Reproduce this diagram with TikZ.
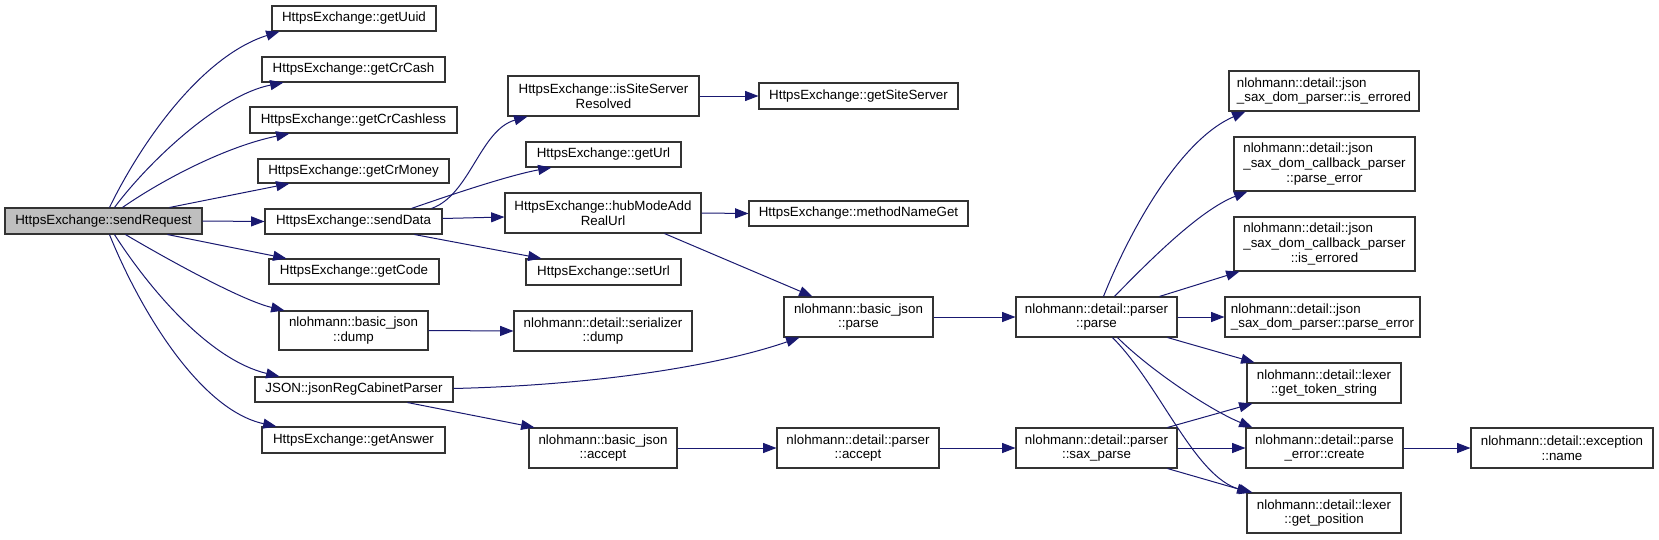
\documentclass[tikz,border=0pt]{standalone}
\usepackage{fontspec}
\setmainfont{Liberation Sans}
\usetikzlibrary{arrows.meta,calc}
\definecolor{edgeblue}{HTML}{191970}
\definecolor{rootfill}{HTML}{BFBFBF}
\definecolor{boxline}{HTML}{333333}
\newlength\lwtmp
\newcommand\lline[2]{\settowidth\lwtmp{#2}\makebox[\lwtmp][l]{#1}}
\newcommand\gnode[7][box]{\node[#1,minimum width={(#5-#3)*0.75pt},minimum height={(#6-#4)*0.75pt}] (#2) at ({(#3+#5)/2},{(#4+#6)/2}) {#7};}
\begin{document}
\begin{tikzpicture}[x=0.75pt,y=-0.75pt,
  box/.style={draw=boxline,line width=0.8pt,fill=white,inner sep=0pt,align=center,font=\fontsize{10}{11}\selectfont},
  rootbox/.style={box,fill=rootfill},
  edge/.style={draw=edgeblue,line width=0.75pt,-{Triangle[length=10pt,width=7.5pt]}}]
\useasboundingbox (0,0) rectangle (1659,539);
% column 1
\gnode[rootbox]{root}{5}{208}{202}{234}{HttpsExchange::sendRequest}
% column 2
\gnode{getUuid}{272}{6}{436}{31}{HttpsExchange::getUuid}
\gnode{getCrCash}{262}{57}{445}{82}{HttpsExchange::getCrCash}
\gnode{getCrCashless}{250}{107}{457}{133}{HttpsExchange::getCrCashless}
\gnode{getCrMoney}{258}{159}{449}{183}{HttpsExchange::getCrMoney}
\gnode{sendData}{265}{209}{442}{234}{HttpsExchange::sendData}
\gnode{getCode}{269}{259}{439}{284}{HttpsExchange::getCode}
\gnode{bjdump}{279}{311}{428}{350}{nlohmann::basic\_json\\::dump}
\gnode{jsonReg}{255}{377}{453}{402}{JSON::jsonRegCabinetParser}
\gnode{getAnswer}{262}{427}{445}{453}{HttpsExchange::getAnswer}
% column 3
\gnode{isSite}{508}{76}{699}{116}{HttpsExchange::isSiteServer\\Resolved}
\gnode{getUrl}{526}{142}{681}{167}{HttpsExchange::getUrl}
\gnode{hubMode}{505}{193}{701}{233}{HttpsExchange::hubModeAdd\\RealUrl}
\gnode{setUrl}{526}{259}{681}{285}{HttpsExchange::setUrl}
\gnode{serdump}{514}{311}{692}{351}{nlohmann::detail::serializer\\::dump}
\gnode{bjaccept}{529}{428}{677}{468}{nlohmann::basic\_json\\::accept}
% column 4
\gnode{getSiteServer}{759}{83}{958}{109}{HttpsExchange::getSiteServer}
\gnode{methodNameGet}{749}{201}{968}{226}{HttpsExchange::methodNameGet}
\gnode{bjparse}{784}{297}{933}{337}{nlohmann::basic\_json\\::parse}
\gnode{paccept}{777}{428}{939}{468}{nlohmann::detail::parser\\::accept}
% column 5
\gnode{pparse}{1016}{297}{1177}{337}{nlohmann::detail::parser\\::parse}
\gnode{saxparse}{1016}{428}{1177}{468}{nlohmann::detail::parser\\::sax\_parse}
% column 6
\gnode{iserr}{1229}{71}{1419}{111}{\lline{nlohmann::detail::json}{\_sax\_dom\_parser::is\_errored}\\\_sax\_dom\_parser::is\_errored}
\gnode{cbperr}{1234}{137}{1415}{191}{\lline{nlohmann::detail::json}{\_sax\_dom\_callback\_parser}\\\_sax\_dom\_callback\_parser\\::parse\_error}
\gnode{cbiserr}{1234}{217}{1415}{271}{\lline{nlohmann::detail::json}{\_sax\_dom\_callback\_parser}\\\_sax\_dom\_callback\_parser\\::is\_errored}
\gnode{sdperr}{1225}{297}{1420}{337}{\lline{nlohmann::detail::json}{\_sax\_dom\_parser::parse\_error}\\\_sax\_dom\_parser::parse\_error}
\gnode{gettok}{1247}{363}{1401}{403}{nlohmann::detail::lexer\\::get\_token\_string}
\gnode{create}{1246}{428}{1403}{468}{nlohmann::detail::parse\\\_error::create}
\gnode{getpos}{1247}{493}{1401}{533}{nlohmann::detail::lexer\\::get\_position}
% column 7
\gnode{excname}{1471}{428}{1653}{468}{nlohmann::detail::exception\\::name}
% edges from sendRequest
\draw[edge] ($(root.north west)+(105,0)$) .. controls (145,135) and (205,55) .. ($(getUuid.south west)+(8,0)$);
\draw[edge] ($(root.north west)+(110,0)$) .. controls (150,160) and (220,95) .. ($(getCrCash.south west)+(22,0)$);
\draw[edge] ($(root.north west)+(118,0)$) .. controls (165,178) and (228,146) .. ($(getCrCashless.south west)+(40,0)$);
\draw[edge] ($(root.north west)+(165,0)$) -- ($(getCrMoney.south west)+(32,0)$);
\draw[edge] (root.east) -- (sendData.west);
\draw[edge] ($(root.south west)+(163,0)$) -- ($(getCode.north west)+(18,0)$);
\draw[edge] ($(root.south west)+(121,0)$) .. controls (160,255) and (240,300) .. ($(bjdump.north west)+(6,0)$);
\draw[edge] ($(root.south west)+(110,0)$) .. controls (150,290) and (210,360) .. ($(jsonReg.north west)+(25,0)$);
\draw[edge] ($(root.south west)+(105,0)$) .. controls (140,310) and (200,410) .. ($(getAnswer.north west)+(15,0)$);
% edges from sendData
\draw[edge] ($(sendData.north west)+(167,0)$) .. controls (470,195) and (480,130) .. ($(isSite.south west)+(20,0)$);
\draw[edge] ($(sendData.north west)+(147,0)$) .. controls (450,195) and (510,175) .. ($(getUrl.south west)+(26,0)$);
\draw[edge] ($(sendData.east)+(0,-3)$) -- ($(hubMode.west)+(0,4)$);
\draw[edge] ($(sendData.south west)+(150,0)$) -- ($(setUrl.north west)+(16,0)$);
% column 3 edges
\draw[edge] (isSite.east) -- (getSiteServer.west);
\draw[edge] (hubMode.east) -- (methodNameGet.west);
\draw[edge] ($(hubMode.south west)+(160,0)$) -- ($(bjparse.north west)+(29,0)$);
\draw[edge] (bjdump.east) -- (serdump.west);
\draw[edge] ($(jsonReg.east)+(0,-1)$) .. controls (600,385) and (720,365) .. ($(bjparse.south west)+(16,0)$);
\draw[edge] ($(jsonReg.south west)+(153,0)$) -- ($(bjaccept.north west)+(6,0)$);
\draw[edge] (bjparse.east) -- (pparse.west);
\draw[edge] (bjaccept.east) -- (paccept.west);
\draw[edge] (paccept.east) -- (saxparse.west);
% edges from parser::parse
\draw[edge] ($(pparse.north west)+(88,0)$) .. controls (1130,230) and (1180,140) .. ($(iserr.south west)+(17,0)$);
\draw[edge] ($(pparse.north west)+(99,0)$) .. controls (1150,260) and (1200,210) .. ($(cbperr.south west)+(14,0)$);
\draw[edge] ($(pparse.north west)+(144,0)$) -- ($(cbiserr.south west)+(6,0)$);
\draw[edge] (pparse.east) -- (sdperr.west);
\draw[edge] ($(pparse.south west)+(152,0)$) -- ($(gettok.north west)+(8,0)$);
\draw[edge] ($(pparse.south west)+(102,0)$) .. controls (1150,370) and (1210,410) .. ($(create.north west)+(7,0)$);
\draw[edge] ($(pparse.south west)+(97,0)$) .. controls (1160,385) and (1195,478) .. ($(getpos.north west)+(6,0)$);
% edges from sax_parse
\draw[edge] ($(saxparse.north west)+(152,0)$) -- ($(gettok.south west)+(6,0)$);
\draw[edge] (saxparse.east) -- (create.west);
\draw[edge] ($(saxparse.south west)+(152,0)$) -- ($(getpos.north west)+(4,0)$);
\draw[edge] (create.east) -- (excname.west);
\end{tikzpicture}
\end{document}
